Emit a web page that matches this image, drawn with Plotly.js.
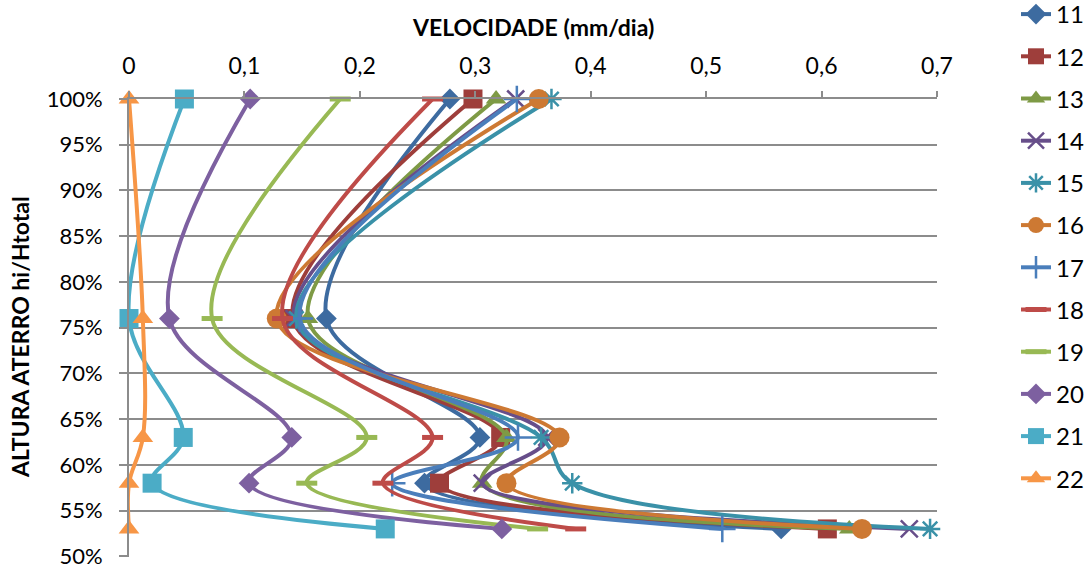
<!DOCTYPE html>
<html>
<head>
<meta charset="utf-8">
<script src="https://cdn.plot.ly/plotly-3.0.1.min.js"></script>
<style>
  html, body { margin: 0; padding: 0; background: #fff; }
  #chart { width: 1091px; height: 569px; }
</style>
</head>
<body>
<div id="chart"></div>
<script>
// Relative fill height (hi/Htotal) of each reading
const heights = [1.00, 0.76, 0.63, 0.58, 0.53];

// Height axis tick positions (shown as percentages)
const yTicks = [0.50, 0.55, 0.60, 0.65, 0.70, 0.75, 0.80, 0.85, 0.90, 0.95, 1.00];

// Velocity (mm/dia) per series, one value per height
const seriesNames = ['11', '12', '13', '14', '15', '16', '17', '18', '19', '20', '21', '22'];
const v11 = [0.278, 0.171, 0.304, 0.256, 0.565];
const v12 = [0.298, 0.142, 0.322, 0.269, 0.605];
const v13 = [0.318, 0.155, 0.327, 0.306, 0.624];
const v14 = [0.335, 0.143, 0.362, 0.306, 0.676];
const v15 = [0.366, 0.145, 0.357, 0.384, 0.694];
const v16 = [0.355, 0.128, 0.373, 0.327, 0.635];
const v17 = [0.336, 0.148, 0.337, 0.228, 0.514];
const v18 = [0.263, 0.133, 0.263, 0.220, 0.387];
const v19 = [0.183, 0.072, 0.206, 0.154, 0.354];
const v20 = [0.105, 0.035, 0.141, 0.104, 0.323];
const v21 = [0.048, 0.000, 0.047, 0.020, 0.222];
const v22 = [0.000, 0.012, 0.012, 0.000, 0.000];
const seriesValues = [v11, v12, v13, v14, v15, v16, v17, v18, v19, v20, v21, v22];

// Line colour and marker style for each series
const styles = [
  { color: '#3D6BA0', symbol: 'diamond', size: 16 },
  { color: '#9E3E3B', symbol: 'square', size: 19 },
  { color: '#7E9A45', symbol: 'triangle-up', size: 18 },
  { color: '#674E8A', symbol: 'x-thin', size: 17, open: true },
  { color: '#3A91A8', symbol: 'asterisk', size: 17, open: true },
  { color: '#CD7933', symbol: 'circle', size: 20 },
  { color: '#4A7EBB', symbol: 'cross-thin', size: 19, open: true },
  { color: '#BE4B48', symbol: 'line-ew', size: 15, open: true },
  { color: '#98B954', symbol: 'line-ew', size: 15, open: true },
  { color: '#7D60A0', symbol: 'diamond', size: 16 },
  { color: '#4BACC6', symbol: 'square', size: 19 },
  { color: '#F79646', symbol: 'triangle-up', size: 18 }
];

const FONT = 'Lato, "Open Sans", "Liberation Sans", sans-serif';

const traces = seriesNames.map((name, i) => {
  const st = styles[i];
  return {
    type: 'scatter',
    mode: 'lines+markers',
    name: name,
    legendgroup: 'g' + name,
    x: seriesValues[i],
    y: heights,
    cliponaxis: false,
    line: { color: st.color, width: 4, shape: 'spline', smoothing: 1 },
    marker: {
      symbol: st.symbol,
      size: st.size,
      color: st.color,
      line: st.open ? { color: st.color, width: st.symbol === 'line-ew' ? 5 : 2.5 } : { width: 0 }
    }
  };
});

const layout = {
  width: 1091,
  height: 569,
  margin: { l: 129, r: 154, t: 99, b: 12, autoexpand: false },
  paper_bgcolor: '#ffffff',
  plot_bgcolor: '#ffffff',
  separators: ', ',
  font: { family: FONT, size: 23, color: '#000000' },
  showlegend: true,
  legend: {
    x: (1089 - 129) / 808, xanchor: 'right',
    y: 1 + (99 + 8) / 458, yanchor: 'top',
    traceorder: 'grouped',
    tracegroupgap: 8,
    maxheight: 600,
    font: { family: FONT, size: 24, color: '#000000' },
    bgcolor: 'rgba(0,0,0,0)'
  },
  xaxis: {
    side: 'top',
    range: [0, 0.7],
    dtick: 0.1,
    tick0: 0,
    automargin: false,
    showgrid: false,
    zeroline: false,
    showline: true,
    linecolor: '#8C8C8C',
    linewidth: 2,
    ticks: 'outside',
    ticklen: 6,
    tickwidth: 2,
    tickcolor: '#8C8C8C',
    ticklabelstandoff: 8,
    ticklabeloverflow: 'allow',
    tickfont: { family: FONT, size: 23, color: '#000000' }
  },
  yaxis: {
    range: [0.4993, 1.0],
    tickvals: yTicks,
    tickformat: '.0%',
    automargin: false,
    showgrid: true,
    gridcolor: '#8C8C8C',
    gridwidth: 2,
    zeroline: false,
    showline: true,
    linecolor: '#8C8C8C',
    linewidth: 2,
    ticks: 'outside',
    ticklen: 8,
    tickwidth: 2,
    tickcolor: '#8C8C8C',
    ticklabelstandoff: 12,
    ticklabeloverflow: 'allow',
    tickfont: { family: FONT, size: 22, color: '#000000' }
  },
  annotations: [
    {
      text: '<b>VELOCIDADE (mm/dia)</b>',
      xref: 'paper', yref: 'paper',
      x: 0.5, y: 1 + (99 - 27) / 458,
      xanchor: 'center', yanchor: 'middle',
      showarrow: false,
      font: { family: FONT, size: 23, color: '#000000' }
    },
    {
      text: '<b>ALTURA ATERRO hi/Htotal</b>',
      xref: 'paper', yref: 'paper',
      x: -0.135, y: 0.48,
      xanchor: 'center', yanchor: 'middle',
      textangle: -90,
      showarrow: false,
      font: { family: FONT, size: 23, color: '#000000' }
    }
  ]
};

Plotly.newPlot('chart', traces, layout, { displayModeBar: false, staticPlot: true });
</script>
</body>
</html>
